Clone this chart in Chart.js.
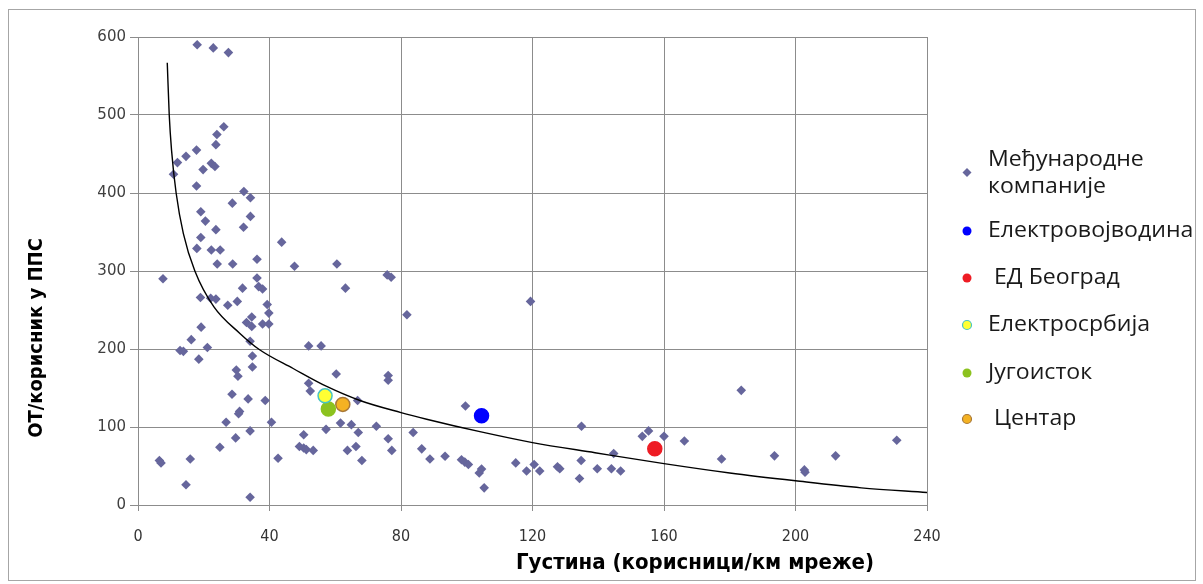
<!DOCTYPE html>
<html>
<head>
<meta charset="utf-8">
<script src="https://cdn.jsdelivr.net/npm/chart.js@4.4.1/dist/chart.umd.min.js"></script>
<style>
  html, body { margin: 0; padding: 0; background: #fff; }
</style>
</head>
<body>
<canvas id="myChart" width="1203" height="584"></canvas>
<script>
// International companies (diamonds)
const intlX = [18.0, 22.9, 27.5, 26.1, 24.0, 23.7, 17.8, 14.6, 12.0, 10.8, 19.8, 22.3, 23.4, 17.8, 32.2, 34.2,
  28.7, 19.1, 20.5, 34.2, 32.1, 23.7, 19.1, 17.9, 22.3, 25.0, 24.1, 28.8, 36.2, 43.7, 47.6, 60.5,
  7.6, 36.2, 31.8, 36.7, 37.9, 63.1, 75.8, 77.0, 19.0, 22.1, 23.7, 27.3, 30.2, 39.3, 39.8, 81.8,
  34.6, 33.0, 34.6, 37.9, 39.8, 19.2, 16.2, 21.1, 34.1, 12.8, 13.8, 18.5, 34.8, 34.8, 29.9, 30.4,
  51.9, 55.7, 60.3, 76.1, 76.1, 51.9, 52.4, 28.6, 33.5, 38.7, 66.8, 30.9, 30.6, 26.8, 40.6, 61.6,
  64.9, 72.5, 83.7, 57.2, 67.0, 34.1, 29.7, 50.4, 76.1, 24.9, 49.1, 50.4, 51.2, 53.3, 63.7, 66.3,
  77.2, 68.1, 42.6, 6.5, 7.0, 15.9, 14.6, 34.1,
  119.4, 183.5, 99.6, 134.9, 155.3, 153.4, 160.0, 166.2, 230.8, 86.3, 88.8, 93.4, 98.4, 99.4, 100.5,
  103.8, 104.5, 105.3, 114.9, 118.2, 120.5, 122.2, 127.6, 128.3, 134.3, 134.8, 139.7, 144.0, 144.7,
  146.8, 177.5, 193.6, 202.7, 202.9, 212.2];
const intlY = [590, 586, 580, 485, 475, 462, 455, 447, 439, 424, 430, 438, 434, 409, 402, 394,
  387, 376, 364, 370, 356, 353, 343, 329, 327, 327, 309, 309, 315, 337, 306, 309,
  290, 291, 278, 280, 277, 278, 295, 292, 266, 265, 264, 256, 261, 257, 246, 244,
  241, 234, 229, 232, 232, 228, 212, 202, 210, 198, 197, 187, 191, 177, 173, 165,
  204, 204, 168, 166, 160, 156, 146, 142, 136, 134, 134, 120, 117, 106, 106, 105,
  103, 101, 93, 97, 93, 95, 86, 90, 85, 74, 75, 73, 71, 70, 70, 75,
  70, 57, 60, 57, 54, 59, 26, 10,
  261, 147, 127, 101, 95, 88, 88, 82, 83, 72, 59, 62.5, 58, 55, 52,
  41, 46, 22, 54, 43.5, 52, 43.5, 49, 46.5, 34, 57, 46.5, 46.5, 66,
  43.5, 59, 63, 45, 42, 63];

// Serbian distribution companies (circles)
const companyNames = ['Електровојводина', 'ЕД Београд', 'Електросрбија', 'Југоисток', 'Центар'];
const companyX = [104.5, 157.2, 56.9, 57.9, 62.3];
const companyY = [114.5, 72, 140, 123, 129];

// Trend line
const trendX = [8.9, 9.5, 10.2, 11.6, 13.8, 17.3, 23.1, 31.0, 37.0, 47.2, 57.4, 67.5, 80, 87.8, 104, 120, 139, 160, 180, 200, 220, 240];
const trendY = [567, 500, 455, 400, 348, 300, 254, 220, 199, 175, 152, 134, 118.5, 110, 94, 80, 67, 53, 41, 31, 22, 16];

const xTicks = [0, 40, 80, 120, 160, 200, 240];
const yTicks = [0, 100, 200, 300, 400, 500, 600];

const intlName = ['Међународне', 'компаније'];
const xTitle = 'Густина (корисници/км мреже)';
const yTitle = 'ОТ/корисник у ППС';

const companyFill = ['#0000ff', '#ee1c24', '#ffff33', '#8cc21f', '#f4b223'];
const companyBorder = ['#0000ff', '#ee1c24', '#47c4c4', '#8cc21f', '#a87838'];
const intlColor = '#66669c';

const gridColor = '#8c8c8c';
const titleFont = 'bold 22px "DejaVu Sans Condensed", sans-serif';

const decor = {
  id: 'decor',
  beforeDraw(chart) {
    const c = chart.ctx;
    c.save();
    c.fillStyle = '#fff';
    c.fillRect(0, 0, chart.width, chart.height);
    c.strokeStyle = '#a6a6a6';
    c.lineWidth = 1;
    c.strokeRect(8.5, 9.5, chart.width - 16, chart.height - 13);
    c.restore();
  },
  afterDraw(chart) {
    const c = chart.ctx, a = chart.chartArea;
    c.save();
    c.fillStyle = '#000';
    c.font = titleFont;
    c.textAlign = 'center';
    c.textBaseline = 'middle';
    c.fillText(xTitle, a.left + (a.right - a.left) * 0.706, 563);
    c.translate(37, 338);
    c.rotate(-Math.PI / 2);
    c.font = 'bold 20px "DejaVu Sans Condensed", sans-serif';
    c.fillText(yTitle, 0, 0);
    c.restore();

    // legend
    c.save();
    c.font = '21px "Open Sans", sans-serif';
    c.textAlign = 'left';
    c.textBaseline = 'middle';
    const mx = 967, tx = 988;
    const text = (s, y) => {
      c.save();
      c.translate(tx, y);
      c.scale(1.1, 1);
      c.fillStyle = '#1a1a1a';
      c.fillText(s, 0, 0);
      c.restore();
    };
    text(intlName[0], 160);
    text(intlName[1], 187);
    c.beginPath();
    c.moveTo(mx, 168); c.lineTo(mx + 4.5, 172.5); c.lineTo(mx, 177); c.lineTo(mx - 4.5, 172.5);
    c.closePath();
    c.fillStyle = intlColor;
    c.fill();
    const rows = [231, 278, 325, 373, 419];
    const lead = ['', ' ', '', '', ' '];
    companyNames.forEach((n, i) => {
      c.beginPath();
      c.arc(mx, rows[i], 4.5, 0, Math.PI * 2);
      c.fillStyle = companyFill[i];
      c.fill();
      if (companyBorder[i] !== companyFill[i]) {
        c.lineWidth = 1.2;
        c.strokeStyle = companyBorder[i];
        c.stroke();
      }
      text(lead[i] + n, rows[i]);
    });
    c.restore();
  }
};

const companySets = companyNames.map((n, i) => ({
  label: n,
  data: [{ x: companyX[i], y: companyY[i] }],
  pointStyle: 'circle',
  pointRadius: 7,
  backgroundColor: companyFill[i],
  borderColor: companyBorder[i],
  borderWidth: 1.5
}));

const ctx = document.getElementById('myChart').getContext('2d');
const myChart = new Chart(ctx, {
  type: 'scatter',
  data: {
    datasets: [
      ...companySets,
      {
        type: 'line',
        label: 'trend',
        data: trendX.map((x, i) => ({ x: x, y: trendY[i] })),
        borderColor: '#000',
        borderWidth: 1.4,
        pointRadius: 0,
        fill: false,
        cubicInterpolationMode: 'monotone'
      },
      {
        label: intlName.join(' '),
        data: intlX.map((x, i) => ({ x: x, y: intlY[i] })),
        pointStyle: 'rectRot',
        pointRadius: 4.8,
        backgroundColor: intlColor,
        borderWidth: 0
      }
    ]
  },
  options: {
    responsive: false,
    animation: false,
    layout: { padding: { top: 37, right: 276, left: 0, bottom: 0 } },
    plugins: {
      legend: { display: false },
      tooltip: { enabled: false }
    },
    scales: {
      x: {
        type: 'linear',
        min: 0,
        max: 240,
        afterFit: s => { s.height = 79; },
        afterBuildTicks: s => { s.ticks = xTicks.map(v => ({ value: v })); },
        ticks: {
          padding: 16,
          color: '#333',
          font: { family: '"DejaVu Sans Condensed", sans-serif', size: 16 }
        },
        grid: { color: gridColor, tickLength: 6 },
        border: { color: gridColor }
      },
      y: {
        min: 0,
        max: 600,
        afterFit: s => { s.width = 138; },
        afterBuildTicks: s => { s.ticks = yTicks.map(v => ({ value: v })); },
        ticks: {
          padding: 4,
          color: '#404040',
          font: { family: '"DejaVu Sans", sans-serif', size: 15 }
        },
        grid: { color: gridColor, tickLength: 8 },
        border: { color: gridColor }
      }
    }
  },
  plugins: [decor]
});
</script>
</body>
</html>
